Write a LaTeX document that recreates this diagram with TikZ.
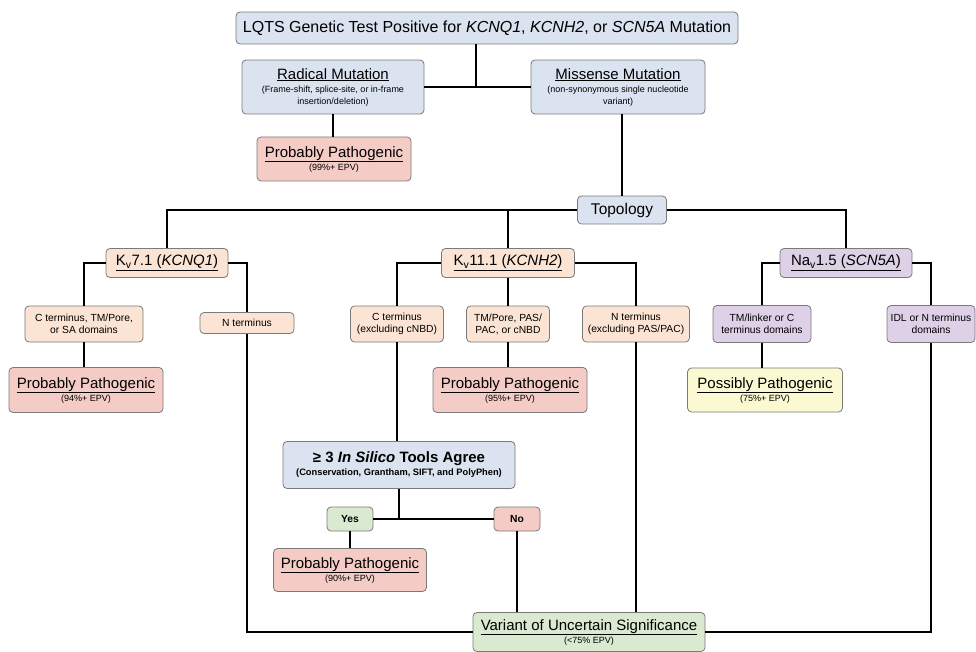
\documentclass[tikz,border=0pt]{standalone}
\usepackage{fontspec}
\setmainfont{Liberation Sans}
\definecolor{cblue}{HTML}{DCE3F0}
\definecolor{cpink}{HTML}{F4CCC5}
\definecolor{cpeach}{HTML}{FBE4D3}
\definecolor{clav}{HTML}{DED1E7}
\definecolor{cyel}{HTML}{FBF9D2}
\definecolor{cgreen}{HTML}{D9EAD1}
\definecolor{bordergray}{HTML}{7A7A7A}
\newcommand\fsTop{\fontsize{16}{18}\selectfont}
\newcommand\fsHead{\fontsize{15}{17}\selectfont}
\newcommand\fsMid{\fontsize{10.3}{12.3}\selectfont}
\newcommand\fsSmall{\fontsize{9}{10.5}\selectfont}
\tikzset{
  box/.style={draw=bordergray, line width=0.8pt, rounded corners=4pt, align=center, inner sep=1pt},
  bluebox/.style={box, fill=cblue},
  pinkbox/.style={box, fill=cpink},
  peachbox/.style={box, fill=cpeach},
  lavbox/.style={box, fill=clav},
  yelbox/.style={box, fill=cyel},
  greenbox/.style={box, fill=cgreen},
  conn/.style={line width=1.5pt, draw=black},
  sz/.style 2 args={minimum width=#1pt, minimum height=#2pt}
}
\begin{document}
\begin{tikzpicture}[x=1pt,y=-1pt]
\useasboundingbox (0,0) rectangle (976,652);
\fill[white] (0,0) rectangle (976,652);

% top level
\node[bluebox, sz={502}{32}] (top) at (487,28) {\fsTop LQTS Genetic Test Positive for \textit{KCNQ1}, \textit{KCNH2}, or \textit{SCN5A} Mutation};
\node[bluebox, sz={182}{54}] (rad) at (333,87) {\fsHead\underline{Radical Mutation}\\[1pt]\fsSmall (Frame-shift, splice-site, or in-frame\\\fsSmall insertion/deletion)};
\node[bluebox, sz={174}{54}] (mis) at (618,87) {\fsHead\underline{Missense Mutation}\\[1pt]\fsSmall (non-synonymous single nucleotide\\\fsSmall variant)};
\node[pinkbox, sz={154}{44}] (pp99) at (334,159) {\fsHead\underline{Probably Pathogenic}\\[1pt]\fsSmall (99\%+ EPV)};
\node[bluebox, sz={89}{28}] (topo) at (622,210) {\fontsize{15.5}{17}\selectfont Topology};

% channels
\node[peachbox, sz={122}{29}] (kv7) at (167,263) {\fsHead\underline{K\textsubscript{v}7.1 (\textit{KCNQ1})}};
\node[peachbox, sz={133}{29}] (kv11) at (508,263) {\fsHead\underline{K\textsubscript{v}11.1 (\textit{KCNH2})}};
\node[lavbox, sz={132}{29}] (nav) at (846,263) {\fsHead\underline{Na\textsubscript{v}1.5 (\textit{SCN5A})}};

% domains
\node[peachbox, sz={118}{36}] (ct1) at (84,324) {\fsMid C terminus, TM/Pore,\\\fsMid or SA domains};
\node[peachbox, sz={94}{21}] (nt1) at (247,323) {\fsMid N terminus};
\node[peachbox, sz={93}{36}] (ct2) at (397,324) {\fsMid C terminus\\\fsMid (excluding cNBD)};
\node[peachbox, sz={83}{36}] (tm2) at (508,324) {\fsMid TM/Pore, PAS/\\\fsMid PAC, or cNBD};
\node[peachbox, sz={107}{36}] (nt2) at (636,324) {\fsMid N terminus\\\fsMid (excluding PAS/PAC)};
\node[lavbox, sz={98}{37}] (tml) at (762,324) {\fsMid TM/linker or C\\\fsMid terminus domains};
\node[lavbox, sz={88}{37}] (idl) at (931,324) {\fsMid IDL or N terminus\\\fsMid domains};

% outcomes row
\node[pinkbox, sz={154}{45}] (pp94) at (86,390) {\fsHead\underline{Probably Pathogenic}\\[1pt]\fsSmall (94\%+ EPV)};
\node[pinkbox, sz={154}{45}] (pp95) at (510,390) {\fsHead\underline{Probably Pathogenic}\\[1pt]\fsSmall (95\%+ EPV)};
\node[yelbox, sz={155}{44}] (pp75) at (765,390) {\fsHead\underline{Possibly Pathogenic}\\[1pt]\fsSmall (75\%+ EPV)};

% in silico
\node[bluebox, sz={232}{47}] (ins) at (399,465) {\fsHead\bfseries ≥ 3 \textit{In Silico} Tools Agree\\[1pt]\fontsize{9.3}{11}\selectfont\bfseries (Conservation, Grantham, SIFT, and PolyPhen)};
\node[greenbox, sz={46}{24}] (yes) at (350,519) {\fsMid\bfseries Yes};
\node[pinkbox, sz={46}{24}] (no) at (517,519) {\fsMid\bfseries No};
\node[pinkbox, sz={153}{43}] (pp90) at (350,570) {\fsHead\underline{Probably Pathogenic}\\[1pt]\fsSmall (90\%+ EPV)};
\node[greenbox, sz={232}{39}] (vus) at (589,632) {\fsHead\underline{Variant of Uncertain Significance}\\[1pt]\fsSmall (<75\% EPV)};

% junction coordinates
\coordinate (j1) at (476,87);

% connectors
\draw[conn] (j1 |- top.south) -- (j1);
\draw[conn] (rad.east) -- (mis.west);
\draw[conn] (rad.south) -- (rad.south |- pp99.north);
\draw[conn] (topo.north) -- (topo.north |- mis.south);
\draw[conn] (topo.west) -| (kv7.north);
\draw[conn] (topo.east) -| (nav.north);
\draw[conn] (kv11.north) -- (kv11.north |- topo.west);

\draw[conn] (kv7.west) -| (ct1.north);
\draw[conn] (kv7.east) -| (nt1.north);
\draw[conn] (ct1.south) -- (ct1.south |- pp94.north);
\draw[conn] (nt1.south) |- (vus.west);

\draw[conn] (kv11.west) -| (ct2.north);
\draw[conn] (kv11.south) -- (tm2.north);
\draw[conn] (kv11.east) -| (nt2.north);
\draw[conn] (tm2.south) -- (tm2.south |- pp95.north);
\draw[conn] (ct2.south) -- (ct2.south |- ins.north);
\draw[conn] (nt2.south) -- (nt2.south |- vus.north);

\draw[conn] (ins.south) -- (ins.south |- yes.east);
\draw[conn] (yes.east) -- (no.west);
\draw[conn] (yes.south) -- (pp90.north);
\draw[conn] (no.south) -- (no.south |- vus.north);

\draw[conn] (nav.west) -| (tml.north);
\draw[conn] (nav.east) -| (idl.north);
\draw[conn] (tml.south) -- (tml.south |- pp75.north);
\draw[conn] (idl.south) |- (vus.east);
\end{tikzpicture}
\end{document}
